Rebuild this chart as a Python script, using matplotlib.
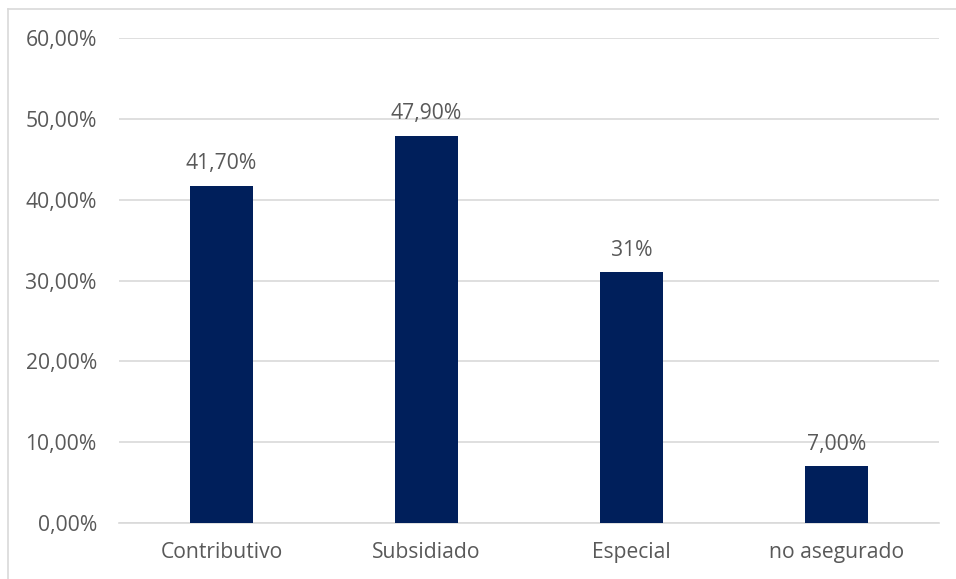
import matplotlib
matplotlib.use("Agg")
import matplotlib.pyplot as plt
from matplotlib.lines import Line2D

categories = ["Contributivo", "Subsidiado", "Especial", "no asegurado"]
values = [0.417, 0.479, 0.31, 0.07]
value_labels = ["41,70%", "47,90%", "31%", "7,00%"]
yticks = [0.0, 0.1, 0.2, 0.3, 0.4, 0.5, 0.6]
ytick_labels = ["0,00%", "10,00%", "20,00%", "30,00%", "40,00%", "50,00%", "60,00%"]

plt.rcParams["font.family"] = ["Open Sans", "DejaVu Sans"]
text_color = "#595959"
grid_color = "#D9D9D9"
bar_color = "#001F5B"
fs = 15.2

W, H = 956, 579
fig = plt.figure(figsize=(W / 100, H / 100), dpi=100)
ax = fig.add_axes([119 / W, 56 / H, (939 - 119) / W, (523 - 38) / H])

x = range(len(categories))
ax.bar(x, values, width=0.31, color=bar_color, zorder=3)
for xi, v, lab in zip(x, values, value_labels):
    ax.annotate(lab, (xi, v), xytext=(0, 16), textcoords="offset points",
                ha="center", va="center", fontsize=fs, color=text_color, zorder=4)

ax.set_xlim(-0.5, len(categories) - 0.5)
ax.set_ylim(0, 0.6)
ax.set_yticks(yticks)
ax.set_yticklabels(ytick_labels)
ax.set_xticks(list(x))
ax.set_xticklabels(categories)
ax.tick_params(axis="both", length=0, labelsize=fs, labelcolor=text_color)
ax.tick_params(axis="y", pad=16)
ax.tick_params(axis="x", pad=14)
ax.grid(axis="y", color=grid_color, linewidth=1.2, zorder=0)
for s in ["top", "right", "left"]:
    ax.spines[s].set_visible(False)
ax.spines["bottom"].set_color(grid_color)
ax.spines["bottom"].set_linewidth(1.2)

# outer chart frame
fig.add_artist(Line2D([8 / W, 8 / W], [0, 1 - 9 / H], transform=fig.transFigure,
                      color=grid_color, linewidth=1.2))
fig.add_artist(Line2D([8 / W, 1], [1 - 9 / H, 1 - 9 / H], transform=fig.transFigure,
                      color=grid_color, linewidth=1.2))

fig.savefig("out.png", dpi=100, facecolor="white")
